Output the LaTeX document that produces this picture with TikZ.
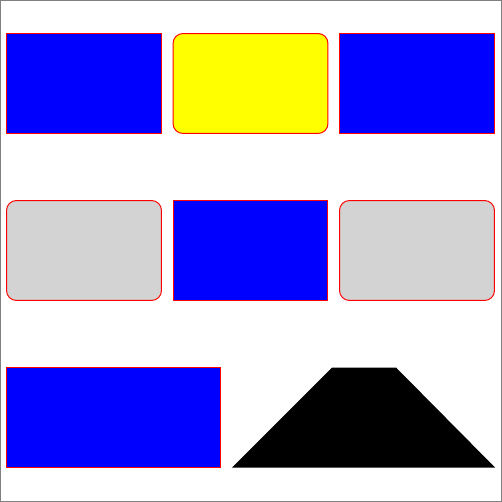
\documentclass[tikz,border=0pt]{standalone}
\usepackage{tikz}
\definecolor{grisclaro}{HTML}{D3D3D3}
\definecolor{amarillo}{HTML}{FFFF00}
\tikzset{
  caja/.style={draw=red, line width=0.02cm, inner sep=0pt, outer sep=0pt,
    minimum width=3.1cm, minimum height=2cm},
  cajaazul/.style={caja, fill=blue},
  cajaredonda/.style={caja, rounded corners=0.2cm}
}
\begin{document}
\begin{tikzpicture}[x=0.02cm, y=-0.02cm]
        % Marco exterior
        \useasboundingbox (0,0) rectangle (502,502);
        \draw[gray, line width=0.02cm] (0.5,0.5) rectangle (501.5,501.5);

        % Primera fila
        \node[cajaazul] (a1) at (84,83.5) {};
        \node[cajaredonda, fill=amarillo] (a2) at (250.5,83.5) {};
        \node[cajaazul] (a3) at (417,83.5) {};

        % Segunda fila
        \node[cajaredonda, fill=grisclaro] (b1) at (84,250.5) {};
        \node[cajaazul] (b2) at (250.5,250.5) {};
        \node[cajaredonda, fill=grisclaro] (b3) at (417,250.5) {};

        % Tercera fila
        \node[cajaazul, minimum width=4.28cm] (c1) at (113.5,417.5) {};

        % Trapecio negro
        \fill[black] (232,467.5) -- (332,367.5) -- (396,367.5) -- (495,467.5) -- cycle;
    \end{tikzpicture}
\end{document}
